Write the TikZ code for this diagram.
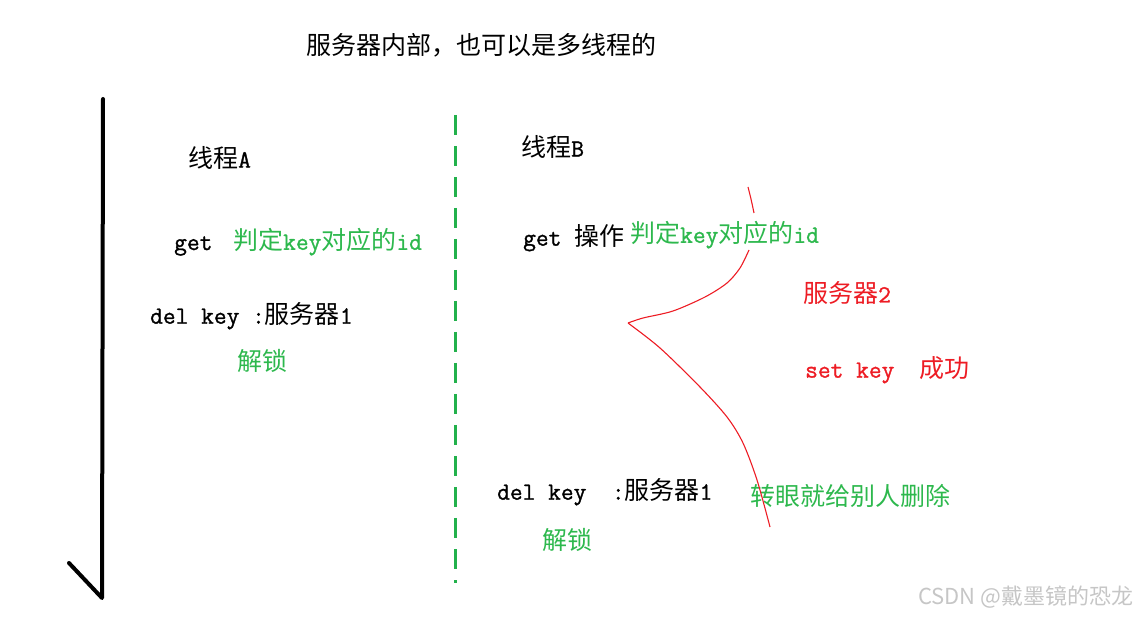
\documentclass[tikz,border=0pt]{standalone}
\usepackage{fontspec}
\newfontfamily\cjk{Noto Sans CJK SC}
\newfontfamily\mono[FakeBold=1.2,Scale=0.99]{Latin Modern Mono}
\newfontfamily\wm{Noto Sans CJK SC}
\newcommand\mt[1]{{\mono #1}}
\definecolor{pgreen}{HTML}{22B14C}
\definecolor{tgreen}{HTML}{2DB84D}
\definecolor{pred}{HTML}{ED1C24}
\tikzset{
  txt/.style={anchor=west, inner sep=0pt, font=\cjk\fontsize{25}{28}\selectfont},
  gtxt/.style={txt, text=tgreen},
  rtxt/.style={txt, text=pred},
  timeline/.style={line width=4pt, line cap=round, line join=round, black},
  divider/.style={pgreen, line width=3pt, dash pattern=on 20pt off 11pt},
  curve/.style={pred, line width=1.1pt}
}
\begin{document}
\begin{tikzpicture}[x=1pt,y=-1pt]
\useasboundingbox (0,0) rectangle (1136,617);
% title
\node[txt] (title) at (306,45) {服务器内部，也可以是多线程的};
% time arrow
\coordinate (ttop) at (103,99);
\coordinate (tbot) at (102,598);
\coordinate (tick) at (69,563);
\draw[timeline] (ttop) -- (tbot) -- (tick);
% divider
\coordinate (dtop) at (455,115);
\coordinate (dbot) at (455,583);
\draw[divider] (dtop) -- (dbot);
% thread A
\node[txt] (ta) at (188,158) {线程\mt{A}};
\node[txt] (ga) at (174,246) {\mt{get}};
\node[gtxt] (ja) at (233,242) {判定\mt{key}对应的\mt{id}};
\node[txt] (da) at (150,316) {\mt{del key :}服务器\mt{1}};
\node[gtxt] (ua) at (237,361) {解锁};
% thread B
\node[txt] (tb) at (521,147) {线程\mt{B}};
\node[txt] (gb) at (523,238) {\mt{get }操作};
\node[gtxt] (jb) at (630,235) {判定\mt{key}对应的\mt{id}};
\node[rtxt] (s2) at (803,293) {服务器\mt{2}};
\node[rtxt] (sk) at (805,370) {\mt{set key\ \ }成功};
\node[txt] (db) at (497,492) {\mt{del key\ \ :}服务器\mt{1}};
\node[gtxt] (zy) at (750,496) {转眼就给别人删除};
\node[gtxt] (ub) at (542,540) {解锁};
% red freehand bracket
\draw[curve] plot[smooth, tension=0.6] coordinates {(748,187) (751,199) (754,213)};
\draw[curve] plot[smooth, tension=0.5] coordinates {(749,250) (740,268) (727,283) (705,297) (673,311) (643,318) (628,323)};
\draw[curve] plot[smooth, tension=0.5] coordinates {(628,323) (660,348) (700,387) (727,417) (743,443) (757,480) (770,527)};
% watermark
\node[anchor=west, inner sep=0pt, font=\wm\fontsize{22}{24}\selectfont, text=gray!45] (wmk) at (918,597) {CSDN @戴墨镜的恐龙};
\end{tikzpicture}
\end{document}
